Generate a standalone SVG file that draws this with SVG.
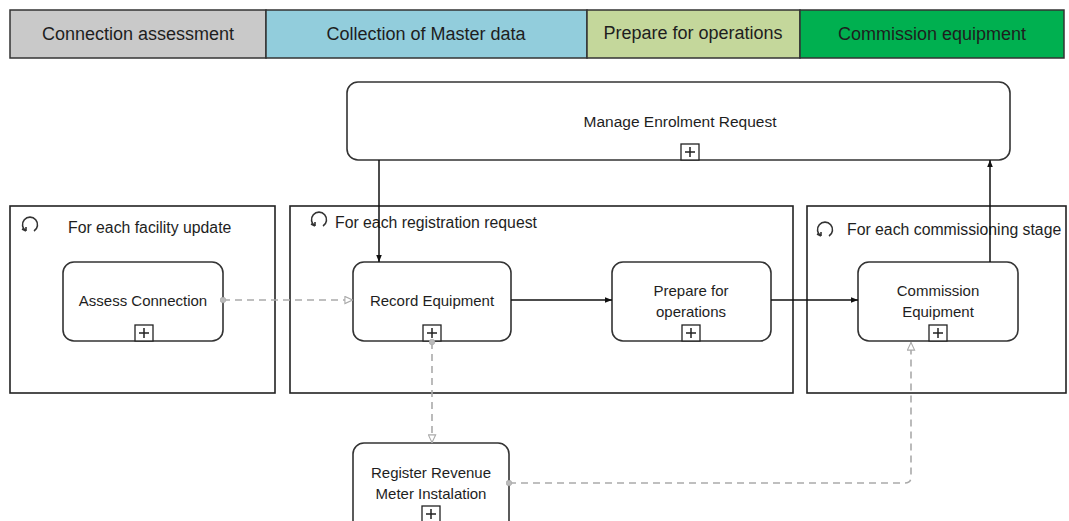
<svg xmlns="http://www.w3.org/2000/svg" width="1069" height="521" viewBox="0 0 1069 521">
<style>
  text { font-family: "Liberation Sans", Arial, sans-serif; fill: #1e1e1e; }
  .hdr { font-size: 18px; text-anchor: middle; }
  .cell { stroke: #333; stroke-width: 1.5; }
  .pool { fill: #fff; stroke: #222; stroke-width: 1.6; }
  .plabel { font-size: 15.8px; }
  .task { fill: #fff; stroke: #333; stroke-width: 1.6; }
  .tlabel { font-size: 15px; text-anchor: middle; }
  .plus { fill: #fff; stroke: #222; stroke-width: 1.3; }
  .plusl { stroke: #222; stroke-width: 1.5; }
  .loop { fill: none; stroke: #333; stroke-width: 1.6; }
  .flow { fill: none; stroke: #111; stroke-width: 1.5; }
  .msg { fill: none; stroke: #aaa; stroke-width: 1.6; stroke-dasharray: 7 5; }
</style>
<defs>
  <marker id="arr" viewBox="0 0 10 10" refX="10" refY="5" markerWidth="7" markerHeight="7" orient="auto" markerUnits="userSpaceOnUse">
    <path d="M0,1 L10,5 L0,9 Z" fill="#111"/>
  </marker>
  <marker id="hollow" viewBox="0 0 10 10" refX="10" refY="5" markerWidth="9" markerHeight="9" orient="auto" markerUnits="userSpaceOnUse">
    <path d="M1,1 L9.5,5 L1,9 Z" fill="#fff" stroke="#aaa" stroke-width="1.2"/>
  </marker>
  <marker id="dot" viewBox="0 0 10 10" refX="5" refY="5" markerWidth="7" markerHeight="7" markerUnits="userSpaceOnUse">
    <circle cx="5" cy="5" r="4" fill="#bbb" stroke="#aaa"/>
  </marker>
  <g id="plusbox">
    <rect class="plus" x="-9" y="-8" width="18" height="16"/>
    <path class="plusl" d="M-5,0 H5 M0,-5 V5"/>
  </g>
  <path id="loopicon" d="M-4,7 A7.5,7.5 0 1 1 4,7 M-4,7 L-8,5 M-4,7 L-4,3" class="loop"/>
</defs>

<g id="header">
  <rect class="cell" x="10" y="10" width="256" height="48" fill="#c9c9c9"/>
  <rect class="cell" x="266" y="10" width="321" height="48" fill="#92cddc"/>
  <rect class="cell" x="587" y="10" width="213" height="48" fill="#c4d79b"/>
  <rect class="cell" x="800" y="10" width="264" height="48" fill="#00b050"/>
  <text class="hdr" x="138" y="40">Connection assessment</text>
  <text class="hdr" x="426" y="40">Collection of Master data</text>
  <text class="hdr" x="693" y="39">Prepare for operations</text>
  <text class="hdr" x="932" y="40">Commission equipment</text>
</g>

<g id="pool-facility">
  <rect class="pool" x="10" y="206" width="265" height="187"/>
  <use href="#loopicon" x="30" y="224"/>
  <text class="plabel" x="68" y="233">For each facility update</text>
</g>
<g id="pool-registration">
  <rect class="pool" x="290" y="206" width="503" height="187"/>
  <use href="#loopicon" x="319" y="219"/>
  <text class="plabel" x="335" y="228">For each registration request</text>
</g>
<g id="pool-commissioning">
  <rect class="pool" x="807" y="206" width="259" height="187"/>
  <use href="#loopicon" x="825" y="229"/>
  <text class="plabel" x="847" y="235">For each commissioning stage</text>
</g>

<g id="manage-enrolment">
  <rect class="task" x="347" y="82" width="663" height="78" rx="11"/>
  <text class="tlabel" x="680" y="127" style="font-size:15.5px">Manage Enrolment Request</text>
  <use href="#plusbox" x="690" y="152"/>
</g>

<g id="assess-connection">
  <rect class="task" x="63" y="262" width="160" height="79" rx="11"/>
  <text class="tlabel" x="143" y="306">Assess Connection</text>
  <use href="#plusbox" x="144" y="333"/>
</g>
<g id="record-equipment">
  <rect class="task" x="353" y="262" width="158" height="79" rx="11"/>
  <text class="tlabel" x="432" y="306">Record Equipment</text>
  <use href="#plusbox" x="432" y="333"/>
</g>
<g id="prepare-operations">
  <rect class="task" x="612" y="262" width="159" height="79" rx="11"/>
  <text class="tlabel" x="691" y="296">Prepare for</text>
  <text class="tlabel" x="691" y="317">operations</text>
  <use href="#plusbox" x="691" y="333"/>
</g>
<g id="commission-equipment">
  <rect class="task" x="858" y="262" width="160" height="79" rx="11"/>
  <text class="tlabel" x="938" y="296">Commission</text>
  <text class="tlabel" x="938" y="317">Equipment</text>
  <use href="#plusbox" x="938" y="333"/>
</g>
<g id="register-revenue-meter">
  <rect class="task" x="353" y="443" width="156" height="90" rx="11"/>
  <text class="tlabel" x="431" y="478">Register Revenue</text>
  <text class="tlabel" x="431" y="499">Meter Instalation</text>
  <use href="#plusbox" x="431" y="514"/>
</g>

<g id="connectors">
  <path class="flow" d="M379,160 V262" marker-end="url(#arr)"/>
  <path class="flow" d="M990,262 V160" marker-end="url(#arr)"/>
  <path class="flow" d="M511,300 H612" marker-end="url(#arr)"/>
  <path class="flow" d="M771,300 H858" marker-end="url(#arr)"/>
  <path class="msg" d="M223,300 H353" marker-start="url(#dot)" marker-end="url(#hollow)"/>
  <path class="msg" d="M432,342 V443" marker-start="url(#dot)" marker-end="url(#hollow)"/>
  <path class="msg" d="M509,483 H905 Q911,483 911,477 V342" marker-start="url(#dot)" marker-end="url(#hollow)"/>
</g>
</svg>
